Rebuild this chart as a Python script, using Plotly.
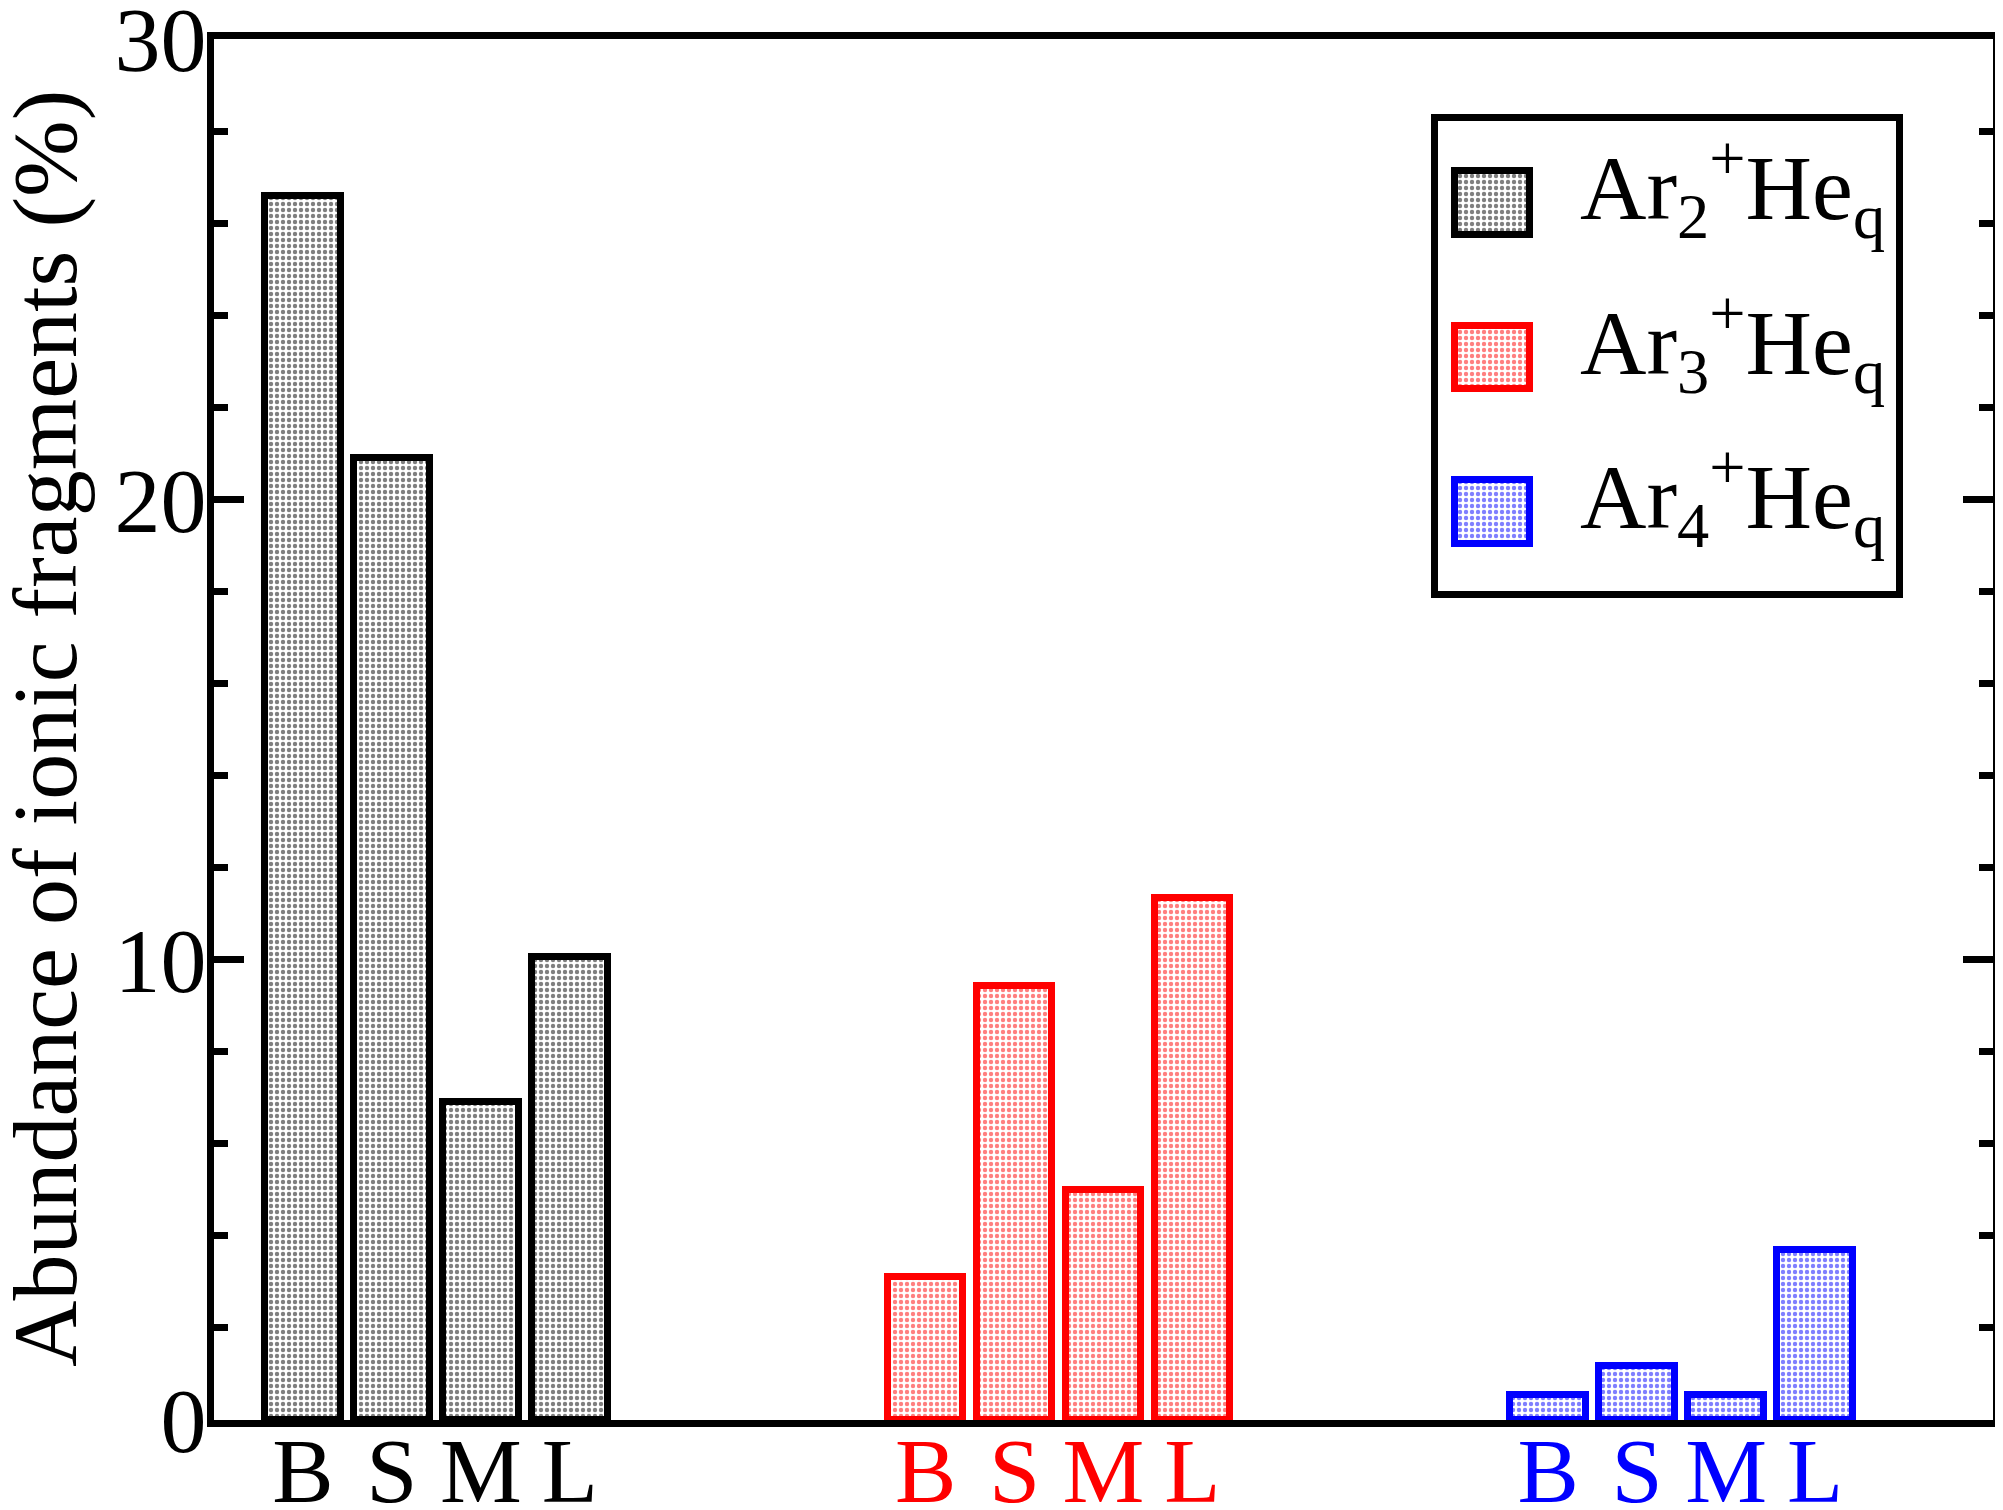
import plotly.graph_objects as go

# ---- data ----
categories = ["B", "S", "M", "L"]
series_names = [
    "Ar<sub>2</sub><sup>+</sup>He<sub>q</sub>",
    "Ar<sub>3</sub><sup>+</sup>He<sub>q</sub>",
    "Ar<sub>4</sub><sup>+</sup>He<sub>q</sub>",
]
series_colors = ["#000000", "#ff0000", "#0000ff"]
ar2_values = [26.58, 20.9, 6.9, 10.05]
ar3_values = [3.1, 9.43, 5.0, 11.33]
ar4_values = [0.55, 1.17, 0.55, 3.7]
series_values = [ar2_values, ar3_values, ar4_values]
group_positions = [[1, 2, 3, 4], [8, 9, 10, 11], [15, 16, 17, 18]]
y_tick_values = [0, 10, 20, 30]
legend_rows = [0, 1, 2]
y_title = "Abundance of ionic fragments (%)"

FONT = "Liberation Serif"
FS = 92
LW = 7
PAT = dict(shape=".", bgcolor="white", size=6, solidity=0.42)

fig = go.Figure()

tickvals, ticktext = [], []
for name, color, vals, pos in zip(series_names, series_colors, series_values, group_positions):
    fig.add_trace(go.Bar(
        x=pos, y=vals, width=0.85, name=name, showlegend=False,
        marker=dict(color="white", line=dict(color=color, width=LW),
                    pattern=dict(PAT, fgcolor=color)),
        xaxis="x", yaxis="y",
    ))
    tickvals += pos
    ticktext += ["<span style='color:%s'>%s</span>" % (color, c) for c in categories]

# manual legend symbols (patterned boxes) on an overlay axis
for row, color in zip(legend_rows, series_colors):
    fig.add_trace(go.Bar(
        x=[1], y=[row], base=0, width=0.414, orientation="h", showlegend=False,
        hoverinfo="skip",
        marker=dict(color="white", line=dict(color=color, width=LW),
                    pattern=dict(PAT, fgcolor=color)),
        xaxis="x2", yaxis="y2",
    ))

# page body has an 8px margin; size the figure so the plot lands where intended
OFF = 8
W, H = 2003 - OFF, 1510 - OFF
L, R, T, B = 214 - OFF, 10, 39 - OFF, 90
pw, ph = W - L - R, H - T - B

def px_x(x):
    return (x - OFF - L) / pw

def px_y(y):
    return (H - B - (y - OFF)) / ph

PADX = 10 / 75.0
PADY = 10 / 154.5

fig.update_layout(
    width=W, height=H,
    margin=dict(l=L, r=R, t=T, b=B, pad=0, autoexpand=False),
    paper_bgcolor="white", plot_bgcolor="white",
    font=dict(family=FONT, size=FS, color="black"),
    showlegend=False,
    bargap=0,
    xaxis=dict(
        range=[0, 20], tickvals=tickvals, ticktext=ticktext, ticks="",
        showline=True, linecolor="black", linewidth=LW, mirror=True,
        showgrid=False, zeroline=False, automargin=False,
        ticklabelstandoff=-35,
        tickfont=dict(family=FONT, size=FS),
    ),
    yaxis=dict(
        range=[0, 30], tickvals=y_tick_values, ticks="inside", ticklen=30,
        tickwidth=LW, tickcolor="black", ticklabeloverflow="allow",
        ticklabelstandoff=-18,
        minor=dict(dtick=2, ticks="inside", ticklen=14, tickwidth=LW, tickcolor="black", showgrid=False),
        showline=True, linecolor="black", linewidth=LW, mirror="allticks",
        showgrid=False, zeroline=False, automargin=False,
        tickfont=dict(family=FONT, size=FS),
    ),
    xaxis2=dict(domain=[px_x(1445), px_x(1540)], range=[-PADX, 1 + PADX], visible=False,
                anchor="y2", fixedrange=True),
    yaxis2=dict(domain=[px_y(554), px_y(161)], range=[2.207 + PADY, -0.207 - PADY], visible=False,
                anchor="x2", fixedrange=True),
)

# y-axis title
fig.add_annotation(xref="paper", yref="paper", x=px_x(45), y=px_y(729),
                   text=y_title, textangle=-90, showarrow=False,
                   xanchor="center", yanchor="middle",
                   font=dict(family=FONT, size=FS, color="black"))

# legend frame
fig.add_shape(type="rect", xref="paper", yref="paper",
              x0=px_x(1434.5), x1=px_x(1899.5), y0=px_y(594.5), y1=px_y(117.5),
              line=dict(color="black", width=LW), fillcolor="rgba(0,0,0,0)", layer="below")

legend_centers = [203, 357.5, 512]
for name, yc in zip(series_names, legend_centers):
    fig.add_annotation(xref="paper", yref="paper", x=px_x(1578), y=px_y(yc - 15),
                       text=name, showarrow=False, xanchor="left", yanchor="middle",
                       font=dict(family=FONT, size=FS, color="black"))

fig.write_html("out.html")
